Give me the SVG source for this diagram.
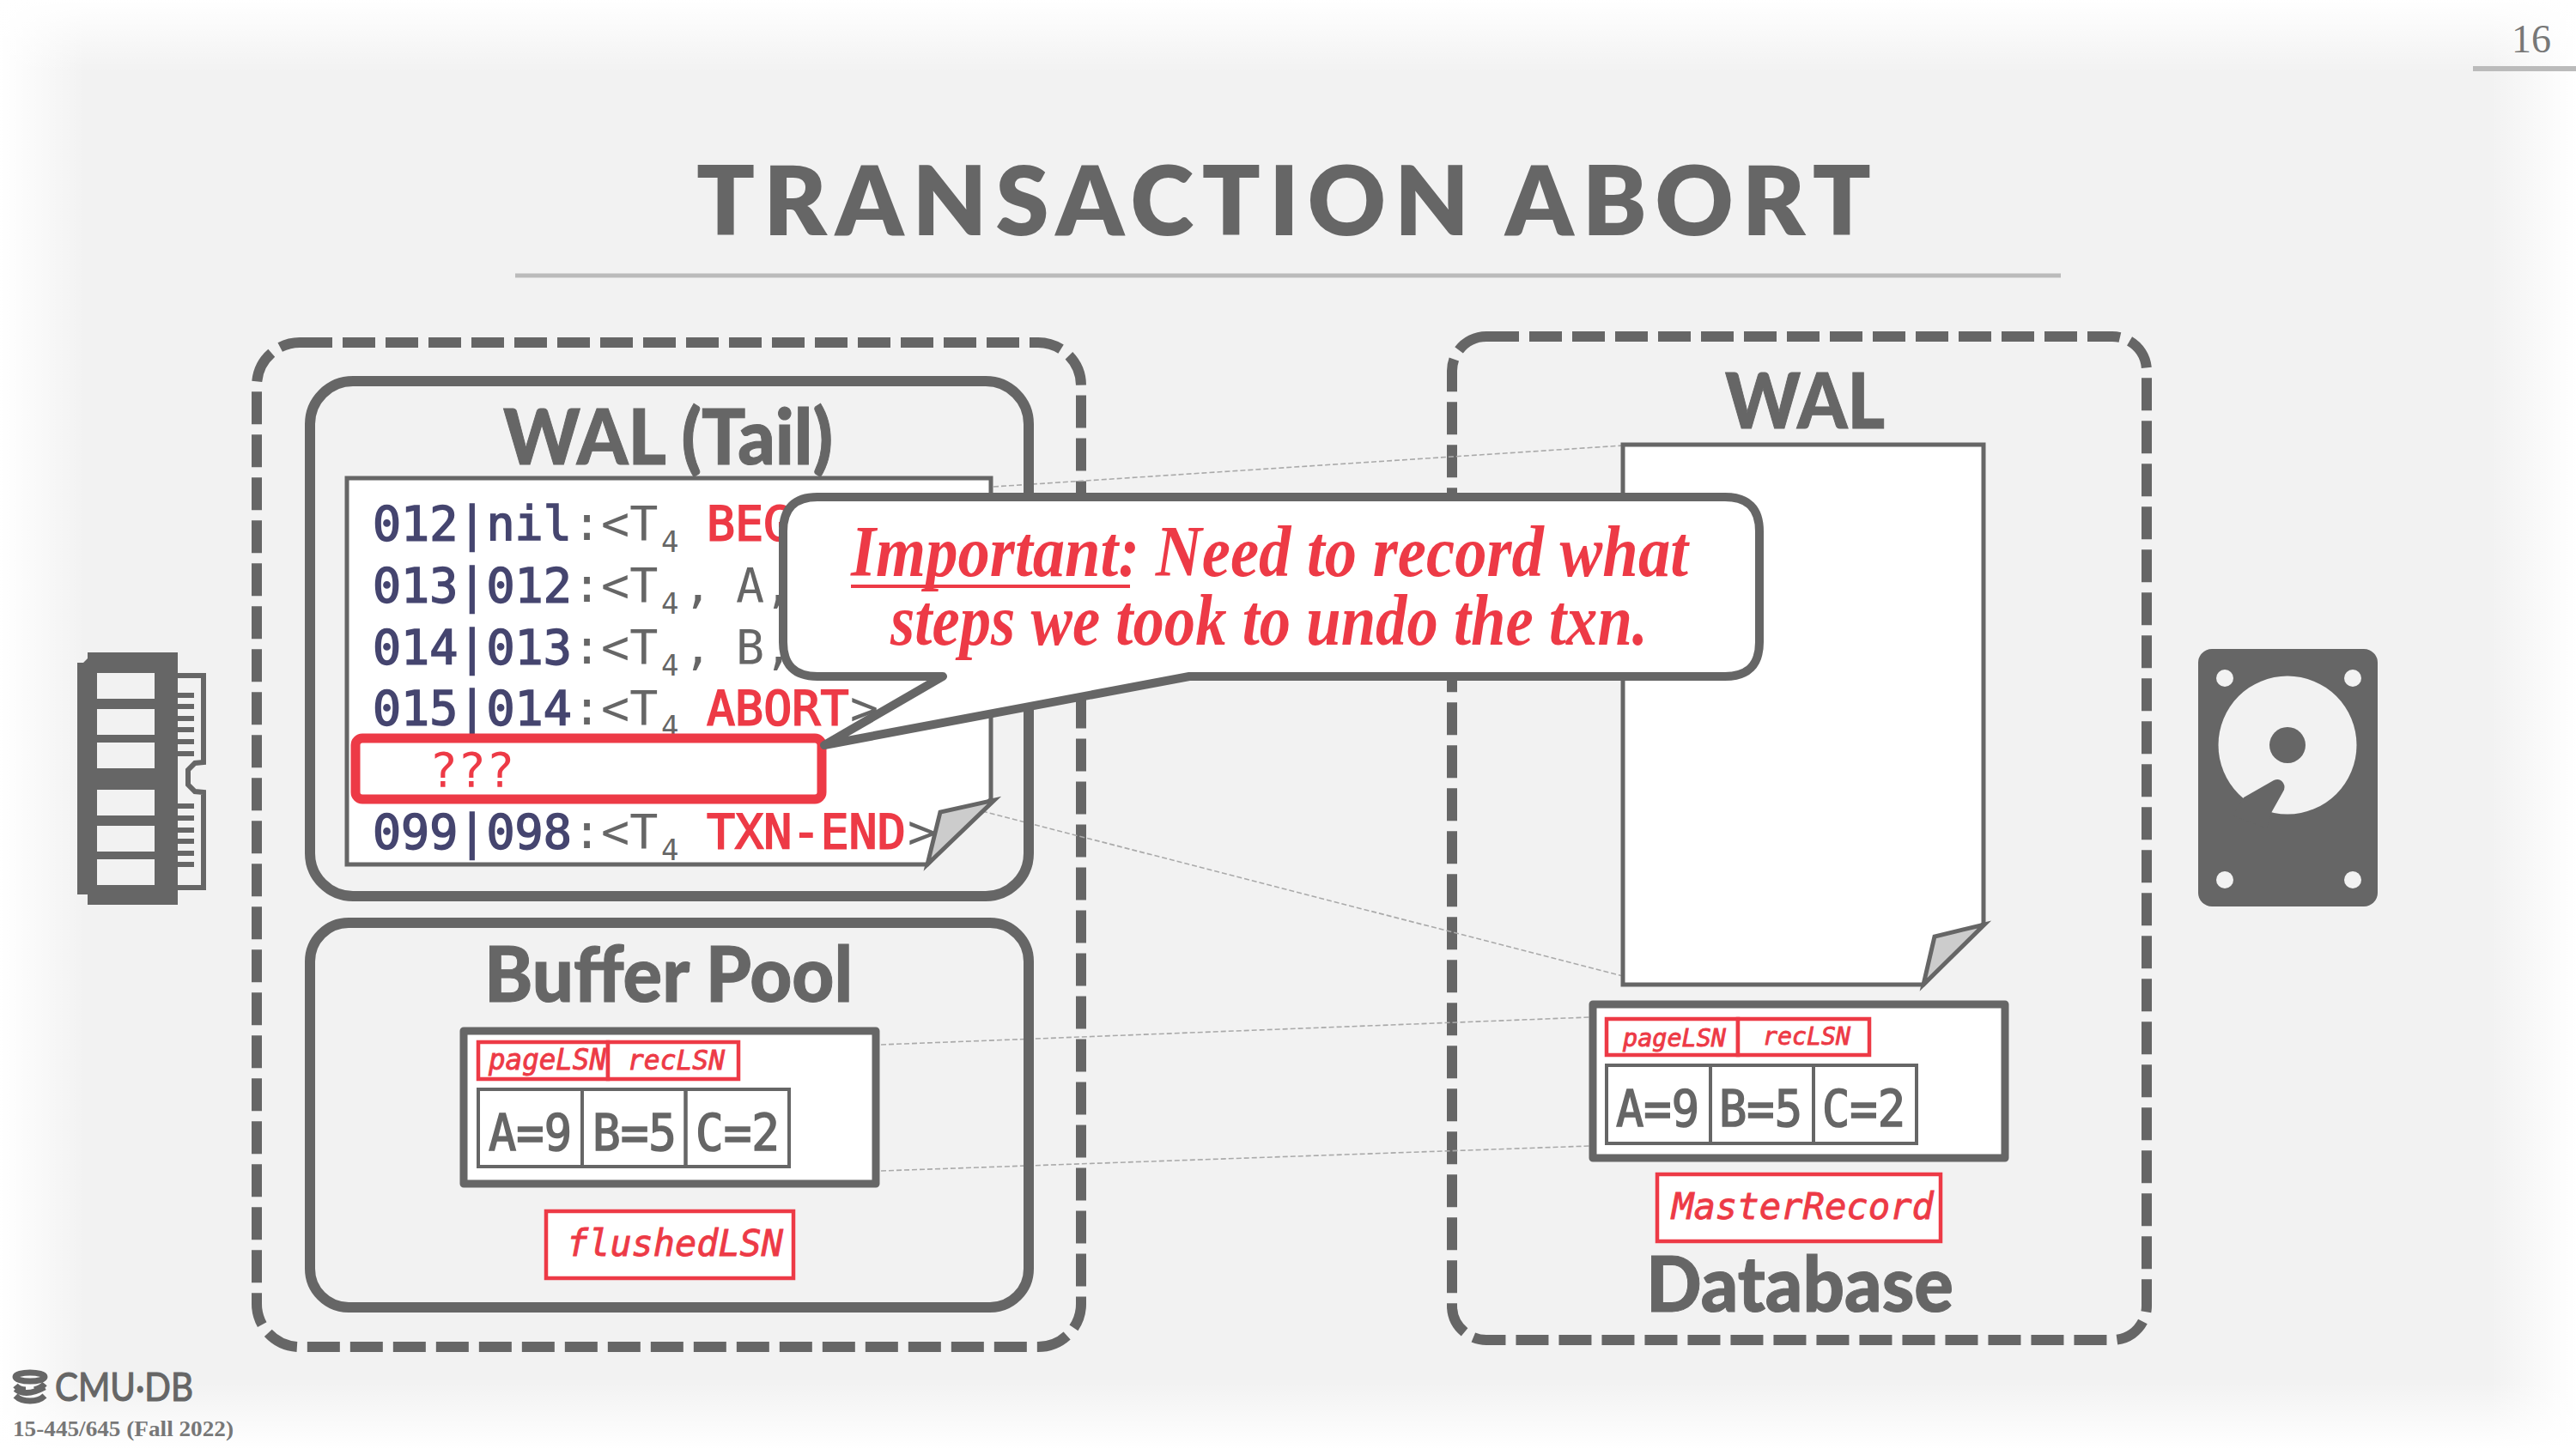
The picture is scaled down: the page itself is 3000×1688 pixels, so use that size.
<svg xmlns="http://www.w3.org/2000/svg" width="3000" height="1688" viewBox="0 0 3000 1688">
<style>
.g{fill:#666}
.box{fill:none;stroke:#666;stroke-width:12}
.dash{fill:none;stroke:#666;stroke-width:12;stroke-dasharray:38 12}
.paper{fill:#fff;stroke:#666;stroke-width:5;stroke-linejoin:miter}
.fold{fill:#ccc;stroke:#666;stroke-width:5;stroke-linejoin:miter}
.pg{fill:#fff;stroke:#666;stroke-width:9;stroke-linejoin:round}
.cell{fill:none;stroke:#666;stroke-width:4}
.tab{fill:#fff;stroke:#ed3a46;stroke-width:4.5}
.conn{fill:none;stroke:#aaa;stroke-width:1.6;stroke-dasharray:6 3}
text{white-space:pre}
.m{font-family:"DejaVu Sans Mono","Liberation Mono",monospace;font-size:55px}
.lsn{fill:#45456f;stroke:#45456f;stroke-width:1.6}
.gt{fill:#666}
.sub{fill:#666;font-size:34px}
.red{fill:#ed3a46;stroke:#ed3a46;stroke-width:1.8}
.val{font-family:"DejaVu Sans Mono","Liberation Mono",monospace;font-size:58px;fill:#666;stroke:#666;stroke-width:1.6}
.ob{font-family:"DejaVu Sans Mono","Liberation Mono",monospace;font-style:oblique;fill:#ed3a46;stroke:#ed3a46;stroke-width:.9}
.head{font-family:Lato,"Liberation Sans",sans-serif;font-weight:900;fill:#666}
</style>
<defs>
<linearGradient id="gl" x1="0" x2="1" y1="0" y2="0"><stop offset="0" stop-color="#fff"/><stop offset="1" stop-color="#fff" stop-opacity="0"/></linearGradient>
<linearGradient id="gr" x1="1" x2="0" y1="0" y2="0"><stop offset="0" stop-color="#fff"/><stop offset="1" stop-color="#fff" stop-opacity="0"/></linearGradient>
<linearGradient id="gt" x1="0" x2="0" y1="0" y2="1"><stop offset="0" stop-color="#fff"/><stop offset="1" stop-color="#fff" stop-opacity="0"/></linearGradient>
<linearGradient id="gb" x1="0" x2="0" y1="1" y2="0"><stop offset="0" stop-color="#fff"/><stop offset="1" stop-color="#fff" stop-opacity="0"/></linearGradient>
</defs>
<g id="background">
<rect width="3000" height="1688" fill="#f2f2f2"/>
<rect width="100" height="1688" fill="url(#gl)"/>
<rect x="2900" width="100" height="1688" fill="url(#gr)"/>
<rect width="3000" height="85" fill="url(#gt)"/>
<rect y="1610" width="3000" height="78" fill="url(#gb)"/>
</g>
<g id="title">
<text x="811" y="274" class="head" font-size="112" textLength="1368" lengthAdjust="spacing" style="font-weight:800">TRANSACTION ABORT</text>
<line x1="600" y1="321" x2="2400" y2="321" stroke="#bbb" stroke-width="5"/>
</g>
<g id="page-number">
<text x="2925" y="61" font-family="Liberation Serif,serif" font-size="46" fill="#777">16</text>
<line x1="2880" y1="80" x2="3000" y2="80" stroke="#bbb" stroke-width="6"/>
</g>
<g id="memory-region"><rect x="299" y="399" width="960" height="1170" rx="50" class="dash"/></g>
<g id="disk-region"><rect x="1691" y="392" width="809" height="1169" rx="40" class="dash"/></g>
<g id="connectors">
<line x1="1157" y1="567" x2="1890" y2="519" class="conn"/>
<line x1="1144" y1="945" x2="1890" y2="1137" class="conn"/>
<line x1="1026" y1="1217" x2="1851" y2="1185" class="conn"/>
<line x1="1026" y1="1364" x2="1851" y2="1335" class="conn"/>
</g>
<g id="wal-tail">
<rect x="361" y="444" width="837" height="600" rx="50" class="box"/>
<text x="586" y="541" class="head" font-size="90" textLength="384" lengthAdjust="spacingAndGlyphs" stroke="#666" stroke-width="1">WAL (Tail)</text>
<path d="M404 557H1154V931L1080 1007H404Z" class="paper"/>
<path d="M1080 1007L1095 946L1158 932Z" class="fold"/>
<g class="m">
<text y="629"><tspan x="434" class="lsn">012|nil</tspan><tspan x="667" class="gt">:&lt;T</tspan><tspan x="770" dy="14" class="sub">4</tspan><tspan x="823" dy="-14" class="red">BEG</tspan></text>
<text y="701"><tspan x="434" class="lsn">013|012</tspan><tspan x="667" class="gt">:&lt;T</tspan><tspan x="770" dy="14" class="sub">4</tspan><tspan x="796" dy="-14" class="gt">,</tspan><tspan x="857" class="gt">A,</tspan></text>
<text y="773"><tspan x="434" class="lsn">014|013</tspan><tspan x="667" class="gt">:&lt;T</tspan><tspan x="770" dy="14" class="sub">4</tspan><tspan x="796" dy="-14" class="gt">,</tspan><tspan x="857" class="gt">B,</tspan></text>
<text y="844"><tspan x="434" class="lsn">015|014</tspan><tspan x="667" class="gt">:&lt;T</tspan><tspan x="770" dy="14" class="sub">4</tspan><tspan x="823" dy="-14" class="red">ABORT</tspan><tspan x="990" class="gt">&gt;</tspan></text>
<text y="988"><tspan x="434" class="lsn">099|098</tspan><tspan x="667" class="gt">:&lt;T</tspan><tspan x="770" dy="14" class="sub">4</tspan><tspan x="823" dy="-14" class="red">TXN-END</tspan><tspan x="1057" class="gt">&gt;</tspan></text>
</g>
</g>
<g id="missing-record">
<rect x="414" y="860" width="543" height="71" rx="8" fill="#fff" stroke="#ed3a46" stroke-width="11"/>
<text x="500" y="916" class="m" fill="#ed3a46">???</text>
</g>
<g id="buffer-pool">
<rect x="361" y="1075" width="837" height="448" rx="45" class="box"/>
<text x="564" y="1167" class="head" font-size="90" textLength="429" lengthAdjust="spacingAndGlyphs" stroke="#666" stroke-width="1">Buffer Pool</text>
</g>
<g id="buffer-page">
<rect x="540" y="1201" width="480" height="178" class="pg"/>
<rect x="557" y="1214" width="151" height="43" class="tab"/>
<rect x="708" y="1214" width="152" height="43" class="tab"/>
<text x="569" y="1246" class="ob" font-size="33" textLength="137" lengthAdjust="spacingAndGlyphs">pageLSN</text>
<text x="731" y="1246" class="ob" font-size="32" textLength="113" lengthAdjust="spacingAndGlyphs">recLSN</text>
<rect x="557" y="1269" width="121" height="90" class="cell"/>
<rect x="678" y="1269" width="120.500" height="90" class="cell"/>
<rect x="798.500" y="1269" width="120.500" height="90" class="cell"/>
<text x="569" y="1340" class="val" textLength="97" lengthAdjust="spacingAndGlyphs">A=9</text>
<text x="690" y="1340" class="val" textLength="98" lengthAdjust="spacingAndGlyphs">B=5</text>
<text x="810" y="1340" class="val" textLength="98" lengthAdjust="spacingAndGlyphs">C=2</text>
</g>
<g id="flushed-lsn">
<rect x="636" y="1411" width="288" height="78" class="tab"/>
<text x="660" y="1463" class="ob" font-size="42" textLength="252" lengthAdjust="spacingAndGlyphs">flushedLSN</text>
</g>
<g id="wal-disk">
<text x="2009" y="499" class="head" font-size="90" textLength="186" lengthAdjust="spacingAndGlyphs" stroke="#666" stroke-width="1">WAL</text>
<path d="M1890 518H2310V1076L2240 1147H1890Z" class="paper"/>
<path d="M2240 1147L2253 1091L2311 1077Z" class="fold"/>
</g>
<g id="disk-page">
<rect x="1855" y="1170" width="480" height="179" class="pg"/>
<rect x="1871" y="1187" width="153" height="42" class="tab"/>
<rect x="2024" y="1187" width="153" height="42" class="tab"/>
<text x="1890" y="1219" class="ob" font-size="29" textLength="120" lengthAdjust="spacingAndGlyphs">pageLSN</text>
<text x="2053" y="1217" class="ob" font-size="29" textLength="102" lengthAdjust="spacingAndGlyphs">recLSN</text>
<rect x="1871" y="1241" width="121" height="91" class="cell"/>
<rect x="1992" y="1241" width="120" height="91" class="cell"/>
<rect x="2112" y="1241" width="120" height="91" class="cell"/>
<text x="1882" y="1312" class="val" textLength="97" lengthAdjust="spacingAndGlyphs">A=9</text>
<text x="2002" y="1312" class="val" textLength="97" lengthAdjust="spacingAndGlyphs">B=5</text>
<text x="2122" y="1312" class="val" textLength="97" lengthAdjust="spacingAndGlyphs">C=2</text>
</g>
<g id="master-record">
<rect x="1930" y="1368" width="330" height="78" class="tab"/>
<text x="1947" y="1420" class="ob" font-size="42" textLength="305" lengthAdjust="spacingAndGlyphs">MasterRecord</text>
</g>
<g id="database-label"><text x="1917" y="1528" class="head" font-size="90" textLength="358" lengthAdjust="spacingAndGlyphs" stroke="#666" stroke-width="1">Database</text></g>
<g id="callout">
<path d="M952 579H2009Q2049 579 2049 619V748Q2049 788 2009 788H1385L960 868L1098 788H952Q912 788 912 748V619Q912 579 952 579Z" fill="#fff" stroke="#666" stroke-width="10" stroke-linejoin="round"/>
<text x="991" y="671" font-family="Liberation Serif,serif" font-style="italic" font-weight="700" font-size="84" fill="#ed3a46" textLength="975" lengthAdjust="spacingAndGlyphs">Important: Need to record what</text>
<line x1="991" y1="683" x2="1316" y2="683" stroke="#ed3a46" stroke-width="4"/>
<text x="1037" y="751" font-family="Liberation Serif,serif" font-style="italic" font-weight="700" font-size="84" fill="#ed3a46" textLength="882" lengthAdjust="spacingAndGlyphs">steps we took to undo the txn.</text>
</g>
<g id="memory-icon">
<path fill-rule="evenodd" class="g" d="M102 760H207V1054H102V1042L97 1042L90 1042V772H97L102 767ZM113 784V814H180V784ZM113 826V856H180V826ZM113 865V895H180V865ZM113 920V950H180V920ZM113 962V992H180V962ZM113 1001V1031H180V1001Z"/>
<path d="M207 787H237V888L227 889L219 897V914L227 922L237 923V1034H207" fill="none" stroke="#666" stroke-width="6"/>
<path class="g" d="M207 807h19v6h-19zM207 820h19v6h-19zM207 834h19v6h-19zM207 847h19v6h-19zM207 861h19v6h-19zM207 875h19v6h-19zM207 936h19v6h-19zM207 950h19v6h-19zM207 964h19v6h-19zM207 977h19v6h-19zM207 991h19v6h-19zM207 1004h19v6h-19z"/>
</g>
<g id="disk-icon">
<rect x="2560" y="756" width="209" height="300" rx="16" class="g"/>
<g fill="#f2f2f2">
<circle cx="2591" cy="790" r="10"/><circle cx="2740" cy="790" r="10"/><circle cx="2591" cy="1025" r="10"/><circle cx="2740" cy="1025" r="10"/>
<circle cx="2664" cy="868" r="80.500"/>
</g>
<circle cx="2664" cy="868" r="21" class="g"/>
<path class="g" d="M2613 929L2648 909Q2655 906 2659 912Q2662 917 2659 922L2645 947L2640 965L2600 950Z"/>
</g>
<g id="footer">
<g fill="none" stroke="#666" stroke-width="7">
<ellipse cx="35" cy="1604" rx="17" ry="5"/>
<path d="M18 1614Q22 1619 30 1619M52 1612Q48 1617 40 1619M18 1626Q24 1632 35 1632Q46 1632 52 1626M18 1618Q30 1628 52 1616"/>
</g>
<text x="64" y="1632" font-family="Lato,sans-serif" font-size="46" fill="#666" stroke="#666" stroke-width="1.2" textLength="161" lengthAdjust="spacingAndGlyphs">CMU·DB</text>
<text x="15" y="1673" font-family="Liberation Serif,serif" font-weight="700" font-size="25" fill="#777" textLength="257" lengthAdjust="spacingAndGlyphs">15-445/645 (Fall 2022)</text>
</g>
</svg>
